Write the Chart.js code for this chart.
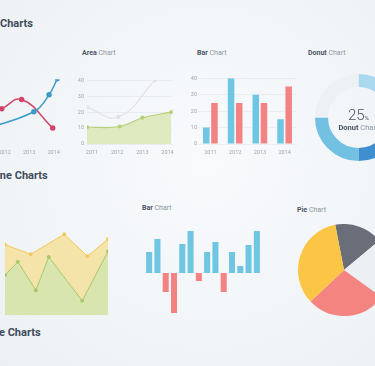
<!DOCTYPE html>
<html>
<head>
<meta charset="utf-8">
<script src="https://cdn.jsdelivr.net/npm/chart.js@4/dist/chart.umd.min.js"></script>
<style>
  html, body { margin: 0; padding: 0; }
  body {
    width: 375px; height: 366px; overflow: hidden; position: relative;
    background: radial-gradient(ellipse at 55% 45%, #f8fafc 0%, #f2f5f8 60%, #ecf0f4 100%);
    font-family: Roboto, sans-serif;
  }
  canvas, .txt { position: absolute; }
  .head { font-weight: 700; font-size: 11px; color: #3f4b5b; white-space: nowrap; }
  .title { font-size: 7px; color: #8c96a2; white-space: nowrap; }
  .title b { color: #4a5566; font-weight: 700; }
</style>
</head>
<body>
<div class="txt head" style="left:0; top:17px;">Charts</div>
<div class="txt head" style="left:-9px; top:169px;">Line Charts</div>
<div class="txt head" style="left:-11px; top:326px;">Pie Charts</div>

<div class="txt title" style="left:82px; top:49px;"><b>Area</b> Chart</div>
<div class="txt title" style="left:197px; top:49px;"><b>Bar</b> Chart</div>
<div class="txt title" style="left:308px; top:49px;"><b>Donut</b> Chart</div>
<div class="txt title" style="left:142px; top:204px;"><b>Bar</b> Chart</div>
<div class="txt title" style="left:297px; top:206px;"><b>Pie</b> Chart</div>

<canvas id="lineTop" width="100" height="84" style="left:-31px; top:74px;"></canvas>
<canvas id="areaTop" width="104" height="84" style="left:75px; top:74px;"></canvas>
<canvas id="barTop" width="113" height="84" style="left:188px; top:74px;"></canvas>
<canvas id="donut" width="87" height="87" style="left:315px; top:74px;"></canvas>
<canvas id="stackArea" width="113" height="105" style="left:0; top:215px;"></canvas>
<canvas id="swingBar" width="116" height="90" style="left:145px; top:228px;"></canvas>
<canvas id="pie" width="92" height="92" style="left:298px; top:224px;"></canvas>

<div class="txt" style="left:315px; top:105px; width:87px; text-align:center; color:#4a5460; white-space:nowrap;">
  <span style="font-size:15px; font-weight:300;">25</span><span style="font-size:6px;">%</span>
</div>
<div class="txt title" style="left:315px; top:123px; width:87px; text-align:center; font-size:7.5px;"><b>Donut</b> Chart</div>

<script>
const years = [2011, 2012, 2013, 2014];

// top left line chart
const lineBlueX = [2010.9, 2013.19, 2013.81, 2014.15];
const lineBlueY = [8, 20, 30.5, 40.5];
const lineRedX = [2011.88, 2012.69, 2013.96];
const lineRedY = [21.8, 27.6, 10];

// area chart
const areaGrayX = [2010.8, 2012.05, 2013.5];
const areaGrayY = [23, 17, 40];
const areaGreenX = [2010.8, 2012.1, 2013, 2014.15];
const areaGreenY = [10.5, 11, 16.5, 20];

// bar chart
const barBlue = [10, 40, 30, 15];
const barRed = [25, 25, 25, 35];

// donut
const donutValues = [25, 25, 25, 25];

// second row area
const stackYellowX = [0, 5, 11.5, 16, 20];
const stackYellowY = [74, 64, 85, 62, 80];
const stackGreenX = [0, 2.5, 6, 8.5, 15, 20];
const stackGreenY = [42, 56, 26, 61, 15, 67];

// second row bars
const swingValues = [21, 34, -19, -40, 29, 42, -8, 21, 31, -19, 21, 7, 28, 42];

// pie
const pieValues = [17, 21, 28, 34];

Chart.defaults.font.family = 'Roboto';
Chart.defaults.animation = false;
Chart.defaults.plugins.legend.display = false;
Chart.defaults.plugins.tooltip.enabled = false;

const pts = (xs, ys) => xs.map((x, i) => ({ x: x, y: ys[i] }));
const tickFont = { size: 5.5 };
const tickColor = '#a0a6ad';

const yearAxis = (min, max) => ({
    type: 'linear', min: min, max: max,
    grid: { display: false, drawTicks: false }, border: { display: false },
    afterBuildTicks: s => { s.ticks = years.map(v => ({ value: v })); },
    afterFit: s => { s.height = 14; },
    ticks: { font: tickFont, color: tickColor, padding: 5, maxRotation: 0, callback: v => String(v) }
});

const valueAxis = (width, pad) => ({
    min: 0, max: 40,
    grid: { color: 'rgba(0,0,0,0.045)', drawTicks: false }, border: { display: false },
    afterFit: s => { s.width = width; },
    ticks: { stepSize: 10, font: tickFont, color: tickColor, padding: pad }
});

new Chart(document.getElementById('lineTop'), {
    type: 'line',
    data: {
        datasets: [
            { data: pts(lineBlueX, lineBlueY), borderColor: '#3d9ac6', backgroundColor: '#3d9ac6',
              borderWidth: 1.5, pointRadius: 2, tension: 0.4 },
            { data: pts(lineRedX, lineRedY), borderColor: '#d1476b', backgroundColor: '#d1476b',
              borderWidth: 1.5, pointRadius: 2, tension: 0.45 }
        ]
    },
    options: {
        responsive: false,
        layout: { padding: { left: 8, right: 4, top: 4 } },
        scales: { x: yearAxis(2011, 2014.4), y: { min: 0, max: 40, display: false } }
    }
});

new Chart(document.getElementById('areaTop'), {
    type: 'line',
    data: {
        datasets: [
            { data: pts(areaGreenX, areaGreenY), borderColor: '#b6cf7c', backgroundColor: '#dfe9bf',
              pointBackgroundColor: '#b6cf7c', borderWidth: 1.2, pointRadius: 1.5, tension: 0.4, fill: 'origin' },
            { data: pts(areaGrayX, areaGrayY), borderColor: '#e2e3e5', pointBackgroundColor: '#dcdde0',
              borderWidth: 1.2, pointRadius: 1.5, tension: 0.45, fill: false }
        ]
    },
    options: {
        responsive: false,
        layout: { padding: { right: 4, top: 4 } },
        scales: { x: yearAxis(2010.8, 2014.2), y: valueAxis(12, 3) }
    }
});

new Chart(document.getElementById('barTop'), {
    type: 'bar',
    data: {
        labels: years,
        datasets: [
            { data: barBlue, backgroundColor: '#6ec6e2', categoryPercentage: 0.66, barPercentage: 0.8 },
            { data: barRed, backgroundColor: '#f38383', categoryPercentage: 0.66, barPercentage: 0.8 }
        ]
    },
    options: {
        responsive: false,
        layout: { padding: { right: 4, top: 4 } },
        scales: {
            x: { grid: { display: false, drawTicks: false }, border: { display: false },
                 afterFit: s => { s.height = 14; },
                 ticks: { font: tickFont, color: tickColor, padding: 5, maxRotation: 0 } },
            y: valueAxis(10, 1)
        }
    }
});

new Chart(document.getElementById('donut'), {
    type: 'doughnut',
    data: {
        datasets: [{
            data: donutValues,
            backgroundColor: ['#aad9ef', '#3f8fcf', '#72c1e3', '#edf1f5'],
            borderWidth: 0
        }]
    },
    options: { responsive: false, cutout: '70%' }
});

new Chart(document.getElementById('stackArea'), {
    type: 'line',
    data: {
        datasets: [
            { data: pts(stackGreenX, stackGreenY), borderColor: '#a9c868', backgroundColor: '#d8e5ae',
              pointBackgroundColor: '#a9c868', borderWidth: 1, pointRadius: 1.5, tension: 0, fill: 'origin', order: 0 },
            { data: pts(stackYellowX, stackYellowY), borderColor: '#f2c95c', backgroundColor: '#f5e4aa',
              pointBackgroundColor: '#f2c95c', borderWidth: 1, pointRadius: 1.5, tension: 0, fill: 'origin', order: 1 }
        ]
    },
    options: {
        responsive: false,
        layout: { padding: { right: 3, top: 3, bottom: 2 } },
        scales: {
            x: { type: 'linear', min: 0, max: 20, display: false },
            y: { min: 0, max: 100, display: false }
        }
    }
});

new Chart(document.getElementById('swingBar'), {
    type: 'bar',
    data: {
        labels: swingValues.map((v, i) => i + 1),
        datasets: [{
            data: swingValues,
            backgroundColor: ctx => ctx.raw < 0 ? '#f38383' : '#6ec6e2',
            categoryPercentage: 1, barPercentage: 0.73
        }]
    },
    options: {
        responsive: false,
        scales: {
            x: { display: false },
            y: { min: -45, max: 45, display: false }
        }
    }
});

new Chart(document.getElementById('pie'), {
    type: 'pie',
    data: {
        datasets: [{
            data: pieValues,
            backgroundColor: ['#6a6e79', '#eceff3', '#f38480', '#fbc545'],
            borderWidth: 0
        }]
    },
    options: { responsive: false, rotation: -11 }
});
</script>
</body>
</html>
